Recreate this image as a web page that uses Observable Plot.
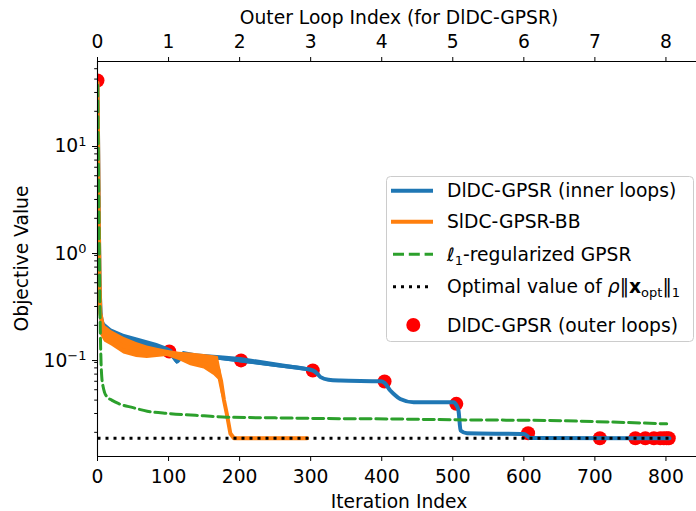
<!DOCTYPE html>
<html><head><meta charset="utf-8">
<script src="https://cdn.jsdelivr.net/npm/d3@7"></script>
<script src="https://cdn.jsdelivr.net/npm/@observablehq/plot@0.6"></script>
<style>
body{margin:0;background:#fff}
#chart{width:696px;height:511px;overflow:hidden;position:relative}
</style>
</head><body><div id="chart"></div>
<script>
// ---- data ----
const blueX = [0,1,2,3,4,5,7,9,12,20,37,60,84,98,105,112,121,140,173,202,257,303,310,314,325,342,398,404,412,417,426,445,501,505,508,511,520,600,607,609,805];
const blueY = [37,8,1.5,0.5,0.3,0.24,0.21,0.19,0.178,0.165,0.15,0.138,0.125,0.116,0.108,0.092,0.107,0.102,0.099,0.094,0.084,0.0756,0.07,0.0655,0.062,0.061,0.060,0.058,0.0492,0.0457,0.041,0.0382,0.0382,0.036,0.032,0.0208,0.0196,0.0193,0.018,0.0177,0.0176];
const blueBandX  = [4,5,10,20,37,60,84,98,105,112,121,140,173,202,257,303];
const blueBandLo = [0.2,0.21,0.17,0.152,0.135,0.125,0.115,0.108,0.098,0.086,0.100,0.097,0.094,0.089,0.080,0.073];
const blueBandHi = [0.3,0.27,0.21,0.185,0.165,0.15,0.135,0.125,0.118,0.100,0.114,0.108,0.104,0.100,0.088,0.079];

const orangeX = [0,1,2,3,4,10,37,70,98,131,164,170,174,178,182,187,192,295];
const orangeY = [37,8,1.5,0.5,0.26,0.165,0.127,0.112,0.109,0.095,0.083,0.078,0.06,0.04,0.0297,0.0195,0.0176,0.0176];
const orangeBandX  = [4,5,10,20,37,55,70,84,98,115,131,150,164,170,174,178,182,187,192];
const orangeBandLo = [0.17,0.16,0.14,0.128,0.108,0.100,0.098,0.100,0.102,0.094,0.084,0.078,0.068,0.062,0.046,0.037,0.028,0.019,0.0176];
const orangeBandHi = [0.27,0.26,0.2,0.178,0.155,0.138,0.128,0.122,0.117,0.112,0.11,0.107,0.104,0.102,0.075,0.043,0.031,0.0205,0.0176];

const greenX = [0,1,2,3,4,5,6,8,10,14,20,30,50,70,100,150,182,250,300,426,500,632,700,801];
const greenY = [35,10,2,0.5,0.17,0.09,0.066,0.053,0.047,0.0426,0.04,0.037,0.034,0.0315,0.030,0.0285,0.0277,0.0273,0.027,0.0266,0.0262,0.0258,0.0252,0.024];

const optX = [0,805];
const optY = [0.0176,0.0176];

const redX = [0,101,202,303,404,505,606,707,757,771,783,792,797,801,804];
const redY = [38.8,0.114,0.094,0.0756,0.0597,0.0369,0.0196,0.0176,0.0176,0.0176,0.0176,0.0176,0.0176,0.0176,0.0176];

const xTicks = [0,100,200,300,400,500,600,700,800];
const yMajor = [0.1,1,10];
const yMinor = [0.02,0.03,0.04,0.05,0.06,0.07,0.08,0.09,0.2,0.3,0.4,0.5,0.6,0.7,0.8,0.9,2,3,4,5,6,7,8,9,20,30,40,50];

const labels = {
  blue: "DlDC-GPSR (inner loops)",
  orange: "SlDC-GPSR-BB",
  red: "DlDC-GPSR (outer loops)",
  xBottom: "Iteration Index",
  xTop: "Outer Loop Index (for DlDC-GPSR)",
  y: "Objective Value"
};

// ---- build tables ----
const zip = (xs, ys) => xs.map((x, i) => ({x, y: ys[i]}));
const band = (xs, lo, hi) => xs.map((x, i) => ({x, lo: lo[i], hi: hi[i]}));
const blue = zip(blueX, blueY), orange = zip(orangeX, orangeY), green = zip(greenX, greenY);
const opt = zip(optX, optY), red = zip(redX, redY);
const blueBand = band(blueBandX, blueBandLo, blueBandHi);
const orangeBand = band(orangeBandX, orangeBandLo, orangeBandHi);

const C = {blue: "#1f77b4", orange: "#ff7f0e", green: "#2ca02c", red: "#ff0000"};
const FS = 18.7;
const yDomain = [0.01189, 58.4];

const svg = Plot.plot({
  width: 696, height: 511,
  marginLeft: 97, marginRight: 0, marginTop: 61, marginBottom: 55,
  style: {fontFamily: "DejaVu Sans", fontSize: FS + "px", background: "white", color: "black", overflow: "hidden"},
  x: {domain: [0, 843]},
  y: {type: "log", domain: yDomain},
  marks: [
    Plot.dot(red, {x: "x", y: "y", r: 7, fill: C.red, stroke: "none", clip: true}),
    Plot.areaY(blueBand, {x: "x", y1: "lo", y2: "hi", fill: C.blue, clip: true}),
    Plot.line(blue, {x: "x", y: "y", stroke: C.blue, strokeWidth: 4, curve: "monotone-x", clip: true}),
    Plot.areaY(orangeBand, {x: "x", y1: "lo", y2: "hi", fill: C.orange, clip: true}),
    Plot.line(orange, {x: "x", y: "y", stroke: C.orange, strokeWidth: 4, clip: true}),
    Plot.line(green, {x: "x", y: "y", stroke: C.green, strokeWidth: 3, strokeDasharray: "11,4.8", curve: "monotone-x", clip: true}),
    Plot.line(opt, {x: "x", y: "y", stroke: "black", strokeWidth: 3, strokeDasharray: "3,5", strokeLinecap: "butt", clip: true}),
    Plot.ruleX([0], {stroke: "black", strokeWidth: 1.1}),
    Plot.ruleY([yDomain[0]], {stroke: "black", strokeWidth: 1.1}),
    Plot.ruleY([yDomain[1]], {stroke: "black", strokeWidth: 1.1}),
    Plot.axisX({anchor: "bottom", ticks: xTicks, tickSize: 5, tickPadding: 8, label: null, tickFormat: d => String(d)}),
    Plot.axisX({anchor: "top", ticks: xTicks, tickSize: 5, tickPadding: 9, label: null, tickFormat: d => String(d / 100)}),
    Plot.axisY({ticks: yMajor, tickSize: 5, tickPadding: 6, dy: 3, label: null, tickFormat: d => "10^" + Math.round(Math.log10(d))}),
    Plot.axisY({ticks: yMinor, tickSize: 2.8, label: null, tickFormat: () => ""})
  ]
});

const root = d3.select(svg);
// superscript exponents on log ticks
root.selectAll("text").each(function() {
  const t = this.textContent;
  if (/^10\^-?\d+$/.test(t)) {
    const e = t.slice(3).replace("-", "\u2212");
    const s = d3.select(this);
    s.text("10");
    s.append("tspan").attr("dy", -6.5).attr("font-size", 13).text(e);
  }
});

// axis titles
const font = "DejaVu Sans";
root.append("text").attr("x", 399).attr("y", 23.5).attr("text-anchor", "middle")
  .attr("font-family", font).attr("font-size", FS).text(labels.xTop);
root.append("text").attr("x", 399).attr("y", 508).attr("text-anchor", "middle")
  .attr("font-family", font).attr("font-size", FS).text(labels.xBottom);
root.append("text").attr("transform", "translate(28,258.5) rotate(-90)").attr("text-anchor", "middle")
  .attr("font-family", font).attr("font-size", FS).text(labels.y);

// legend
const lg = root.append("g").attr("font-family", font).attr("font-size", FS).attr("text-anchor", "start");
lg.append("rect").attr("x", 386.5).attr("y", 176.5).attr("width", 307).attr("height", 165).attr("rx", 4)
  .attr("fill", "white").attr("fill-opacity", 0.8).attr("stroke", "#cccccc").attr("stroke-width", 1);
const sx0 = 391, sx1 = 433, tx = 447;
const rows = [190.7, 221.7, 254.3, 286.7, 325];
lg.append("line").attr("x1", sx0).attr("x2", sx1).attr("y1", rows[0]).attr("y2", rows[0]).attr("stroke", C.blue).attr("stroke-width", 4);
lg.append("line").attr("x1", sx0).attr("x2", sx1).attr("y1", rows[1]).attr("y2", rows[1]).attr("stroke", C.orange).attr("stroke-width", 4);
lg.append("line").attr("x1", sx0 + 2).attr("x2", sx1).attr("y1", rows[2]).attr("y2", rows[2]).attr("stroke", C.green).attr("stroke-width", 3).attr("stroke-dasharray", "11,4.8");
lg.append("line").attr("x1", sx0 + 2).attr("x2", sx1).attr("y1", rows[3]).attr("y2", rows[3]).attr("stroke", "black").attr("stroke-width", 3).attr("stroke-dasharray", "3,5");
lg.append("circle").attr("cx", 413.3).attr("cy", rows[4]).attr("r", 7).attr("fill", C.red);

lg.append("text").attr("x", tx).attr("y", rows[0] + 6.5).text(labels.blue);
lg.append("text").attr("x", tx).attr("y", rows[1] + 6.5).text(labels.orange);
const t3 = lg.append("text").attr("x", tx).attr("y", rows[2] + 6.5);
t3.append("tspan").attr("font-style", "italic").text("\u2113");
t3.append("tspan").attr("font-size", 13).attr("dy", 4).text("1");
t3.append("tspan").attr("dy", -4).text("-regularized GPSR");
const t4 = lg.append("text").attr("x", tx).attr("y", rows[3] + 6.5);
t4.append("tspan").text("Optimal value of ");
t4.append("tspan").attr("font-style", "italic").text("\u03c1");
t4.append("tspan").text("\u2016");
t4.append("tspan").attr("font-weight", "bold").text("x");
t4.append("tspan").attr("font-size", 13).attr("dy", 4).text("opt");
t4.append("tspan").attr("dy", -4).text("\u2016");
t4.append("tspan").attr("font-size", 13).attr("dy", 4).text("1");
lg.append("text").attr("x", tx).attr("y", rows[4] + 6.5).text(labels.red);

document.getElementById("chart").appendChild(svg);
</script></body></html>
